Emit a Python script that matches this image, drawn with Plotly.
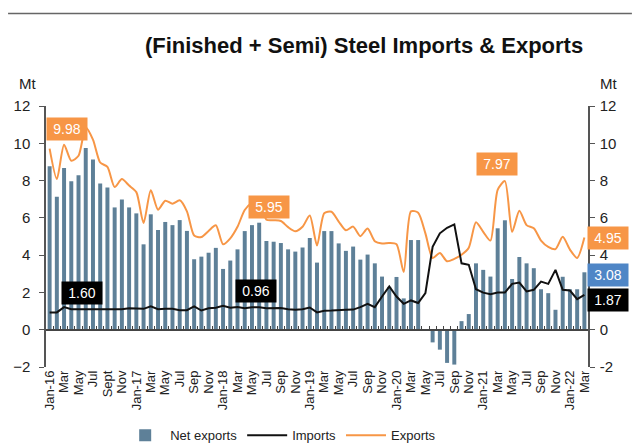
import plotly.graph_objects as go

months = [
    "Jan-16","Feb-16","Mar-16","Apr-16","May-16","Jun-16","Jul-16","Aug-16","Sep-16","Oct-16","Nov-16","Dec-16",
    "Jan-17","Feb-17","Mar-17","Apr-17","May-17","Jun-17","Jul-17","Aug-17","Sep-17","Oct-17","Nov-17","Dec-17",
    "Jan-18","Feb-18","Mar-18","Apr-18","May-18","Jun-18","Jul-18","Aug-18","Sep-18","Oct-18","Nov-18","Dec-18",
    "Jan-19","Feb-19","Mar-19","Apr-19","May-19","Jun-19","Jul-19","Aug-19","Sep-19","Oct-19","Nov-19","Dec-19",
    "Jan-20","Feb-20","Mar-20","Apr-20","May-20","Jun-20","Jul-20","Aug-20","Sep-20","Oct-20","Nov-20","Dec-20",
    "Jan-21","Feb-21","Mar-21","Apr-21","May-21","Jun-21","Jul-21","Aug-21","Sep-21","Oct-21","Nov-21","Dec-21",
    "Jan-22","Feb-22","Mar-22",
]

net_exports = [
    8.77, 7.13, 8.68, 7.97, 8.29, 9.75, 9.13, 7.84, 7.63, 6.56, 6.99, 6.56,
    6.24, 4.58, 6.19, 5.35, 5.78, 5.61, 5.88, 5.30, 3.78, 3.92, 4.13, 4.39,
    3.26, 3.71, 4.31, 5.29, 5.61, 5.74, 4.76, 4.72, 4.65, 4.31, 4.19, 4.41,
    4.92, 3.60, 5.29, 5.29, 4.63, 4.23, 4.46, 3.76, 4.03, 3.56, 2.85, 2.30,
    2.83, 1.68, 4.81, 4.81, 0.00, -0.68, -1.07, -1.78, -1.87, 0.46, 0.84, 3.56,
    3.21, 2.85, 5.44, 5.87, 2.72, 3.90, 3.56, 3.30, 2.17, 1.96, 1.07, 2.84,
    2.17, 2.17, 3.08,
]

imports = [
    0.93, 0.93, 1.21, 1.10, 1.10, 1.10, 1.10, 1.10, 1.10, 1.08, 1.10, 1.15,
    1.12, 1.12, 1.25, 1.10, 1.12, 1.12, 1.05, 1.05, 1.25, 1.03, 1.15, 1.18,
    1.28, 1.18, 1.22, 1.15, 1.20, 1.20, 1.15, 1.15, 1.16, 1.10, 1.07, 1.10,
    1.19, 0.93, 1.02, 1.03, 1.07, 1.07, 1.08, 1.21, 1.39, 1.21, 1.78, 2.32,
    1.78, 1.39, 1.57, 1.43, 1.96, 4.45, 5.17, 5.47, 5.65, 3.56, 3.48, 2.17,
    1.99, 1.91, 1.99, 1.99, 2.46, 2.53, 2.05, 2.14, 2.58, 2.46, 3.21, 2.14,
    2.10, 1.64, 1.87,
]

exports = [
    9.71, 8.08, 9.92, 9.06, 9.33, 10.85, 10.20, 8.97, 8.73, 7.65, 8.08, 7.73,
    7.38, 5.72, 7.48, 6.44, 6.92, 6.76, 6.94, 6.35, 5.05, 4.97, 5.30, 5.60,
    4.58, 4.90, 5.52, 6.42, 6.80, 6.94, 5.90, 5.87, 5.83, 5.50, 5.28, 5.52,
    6.13, 4.52, 6.25, 6.33, 5.80, 5.33, 5.53, 5.02, 5.43, 4.75, 4.63, 4.65,
    4.58, 3.10, 6.35, 6.28, 5.17, 3.85, 4.12, 3.67, 3.80, 4.02, 4.40, 5.76,
    5.25, 4.78, 7.50, 7.97, 5.25, 6.38, 5.61, 5.44, 4.78, 4.44, 4.32, 4.98,
    4.30, 3.85, 4.95,
]

tick_labels = [
    "Jan-16","Mar","May","Jul","Sept","Nov",
    "Jan-17","Mar","May","Jul","Sep","Nov",
    "Jan-18","Mar","May","Jul","Sep","Nov",
    "Jan-19","Mar","May","Jul","Sep","Nov",
    "Jan-20","Mar","May","Jul","Sep","Nov",
    "Jan-21","Mar","May","Jul","Sep","Nov",
    "Jan-22","Mar",
]
tick_positions = months[::2]

y_ticks = [-2, 0, 2, 4, 6, 8, 10, 12]
y_right_text = ["-2", "0", "", "4", "6", "8", "10", "12"]

BAR = "#5e8098"
ORANGE = "#f79646"
BLUE = "#4f86c6"
FONT = "Liberation Sans, Arial, sans-serif"
AXC = "#555555"

fig = go.Figure()
fig.add_trace(go.Bar(x=months, y=net_exports, name="Net exports",
                     marker=dict(color=BAR, line=dict(width=0)),
                     xaxis="x", yaxis="y"))
fig.add_trace(go.Scatter(x=months, y=imports, name="Imports", mode="lines",
                         line=dict(color="#111111", width=2),
                         xaxis="x2", yaxis="y"))
fig.add_trace(go.Scatter(x=months, y=exports, name="Exports", mode="lines",
                         line=dict(color=ORANGE, width=2, shape="spline", smoothing=0.7),
                         xaxis="x", yaxis="y2"))

ann = []
def box(text, x, y, color, xref="x", size=14):
    ann.append(dict(text=text, x=x, y=y, xref=xref, yref="y", showarrow=False,
                    font=dict(color="white", size=size, family=FONT),
                    bgcolor=color, borderpad=3, width=34,
                    xanchor="center", yanchor="middle"))

box("9.98", 2.37, 10.79, ORANGE)
box("1.60", 4.48, 1.98, "#000000")
box("5.95", 30.3, 6.57, ORANGE)
box("0.96", 28.5, 2.07, "#000000")
box("7.97", 61.87, 8.89, ORANGE)
box("4.95", 1.0375, 4.90, ORANGE, xref="paper")
box("3.08", 1.0375, 2.94, BLUE, xref="paper")
box("1.87", 1.0375, 1.57, "#000000", xref="paper")

ann.append(dict(text="Mt", x=-0.035, y=1.087, xref="paper", yref="paper", showarrow=False,
                font=dict(size=15, color="#222", family=FONT), xanchor="center", yanchor="middle"))
ann.append(dict(text="Mt", x=1.037, y=1.087, xref="paper", yref="paper", showarrow=False,
                font=dict(size=15, color="#222", family=FONT), xanchor="center", yanchor="middle"))

fig.update_layout(
    width=632, height=444,
    margin=dict(l=46, r=44, t=106, b=77, autoexpand=False),
    paper_bgcolor="white", plot_bgcolor="white",
    font=dict(family=FONT, color="#222"),
    title=dict(text="<b>(Finished + Semi) Steel Imports & Exports</b>",
               x=0.576, xanchor="center", y=0.8986, yanchor="middle",
               font=dict(size=22, color="#111", family=FONT)),
    bargap=0.45,
    showlegend=True,
    legend=dict(orientation="h", x=0.433, xanchor="center", y=-0.262, yanchor="middle",
                itemwidth=40,
                font=dict(size=13, color="#222"), bgcolor="rgba(0,0,0,0)"),
    xaxis=dict(type="category", categoryorder="array", categoryarray=months,
               range=[-0.5, 74.5], showgrid=False, showline=False, zeroline=False,
               automargin=False,
               tickmode="array", tickvals=tick_positions, ticktext=tick_labels,
               tickangle=-90, ticks="", tickfont=dict(size=13, color="#222")),
    xaxis2=dict(type="category", categoryorder="array", categoryarray=months,
                overlaying="x", matches="x", anchor="free", position=2/14,
                automargin=False,
                showgrid=False, zeroline=False, showline=True, linecolor="#444", linewidth=1.5,
                showticklabels=False, ticks="inside", ticklen=3, tickcolor="#444",
                tickmode="linear", dtick=1, tickson="boundaries"),
    yaxis=dict(range=[-2, 12], tickmode="array", tickvals=y_ticks,
               showgrid=False, zeroline=False, automargin=False,
               showline=True, linecolor=AXC, linewidth=1.5,
               ticks="outside", ticklen=5, tickcolor=AXC,
               tickfont=dict(size=15, color="#222"), ticklabelstandoff=6),
    yaxis2=dict(range=[-2, 12], tickmode="array", tickvals=y_ticks, ticktext=y_right_text,
                overlaying="y", side="right", anchor="x",
                showgrid=False, zeroline=False, automargin=False,
                showline=True, linecolor=AXC, linewidth=1.5,
                ticks="outside", ticklen=5, tickcolor=AXC,
                tickfont=dict(size=15, color="#222"), ticklabelstandoff=2),
    annotations=ann,
    shapes=[dict(type="line", xref="paper", yref="paper", x0=-0.07, x1=1.081,
                 y0=1.354, y1=1.354, line=dict(color="#666", width=1.5))],
)

fig.write_html("out.html", config={"displayModeBar": False},
               post_script="document.body.style.margin='0';document.documentElement.style.overflow='hidden';")
